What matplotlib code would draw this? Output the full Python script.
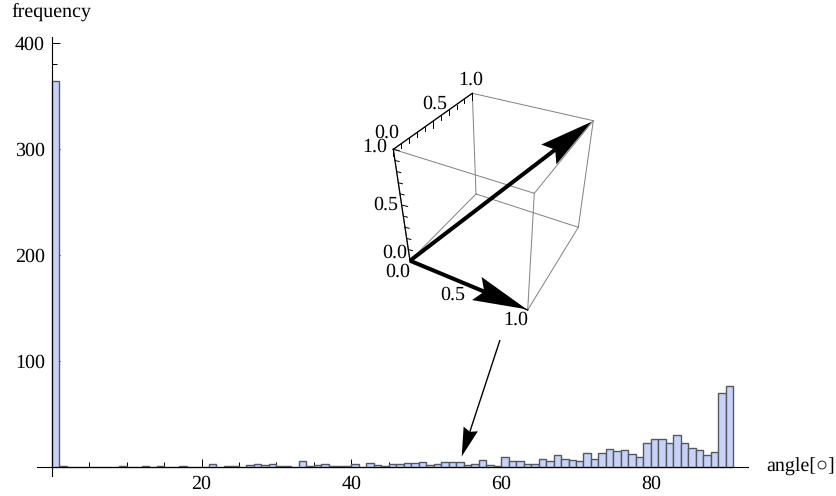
import numpy as np
import matplotlib
matplotlib.use("Agg")
import matplotlib.pyplot as plt

plt.rcParams["font.family"] = ["Liberation Serif", "DejaVu Sans"]
plt.rcParams["font.size"] = 14.6
plt.rcParams["text.hinting"] = "none"
plt.rcParams["text.hinting_factor"] = 1

W, H = 836, 496

# histogram, one count per 1 degree bin starting at 0
counts = [364, 1, 0, 0, 0, 0, 0, 0, 0, 1, 0, 0, 1, 0, 1, 0, 0, 1, 0, 0,
          0, 3, 0, 1, 1, 0, 2, 3, 2, 3, 1, 1, 0, 6, 1, 2, 3, 1, 1, 1,
          3, 0, 4, 2, 1, 3, 3, 4, 4, 5, 2, 3, 5, 5, 5, 2, 3, 7, 2, 1,
          9, 6, 6, 3, 3, 8, 6, 11, 8, 7, 6, 13, 8, 13, 17, 15, 16, 12, 9, 23,
          26, 26, 23, 30, 23, 18, 16, 11, 14, 70, 76]
x_major = [20, 40, 60, 80]
x_minor = [5, 10, 15, 25, 30, 35, 45, 50, 55, 65, 70, 75, 85, 90]
y_major = [100, 200, 300, 400]
y_minor = [20, 40, 60, 80, 120, 140, 160, 180, 220, 240, 260, 280, 320, 340, 360, 380]

# inset cube, corners as they land on the page (pixels)
cube = {"O": (410.0, 260.7), "C": (393.3, 149.3), "A": (472.3, 93.3), "F": (476.0, 194.0),
        "P": (527.7, 310.0), "G": (534.3, 193.3), "B": (593.3, 120.7), "E": (578.3, 227.3)}
cube_edges = ["OC", "OF", "OP", "CA", "CG", "AF", "AB", "FE", "PG", "PE", "GB", "EB"]
cube_labels = [("0.0", 387, 133), ("1.0", 375, 147), ("0.5", 435, 104), ("1.0", 471, 80),
               ("0.5", 386, 205), ("0.0", 395, 253), ("0.0", 398, 272), ("0.5", 453, 295),
               ("1.0", 516, 320)]


def draw_arrow(ax, start, tip, lw, head_len, head_w, notch):
    start, tip = np.array(start), np.array(tip)
    d = (tip - start) / np.hypot(*(tip - start))
    n = np.array([-d[1], d[0]])
    base = tip - d * head_len
    ax.plot([start[0], base[0] + d[0] * notch], [start[1], base[1] + d[1] * notch],
            color="black", lw=lw, solid_capstyle="butt", zorder=5)
    head = [tip, base + n * head_w / 2, base + d * notch, base - n * head_w / 2]
    ax.fill(*zip(*head), color="black", lw=0, zorder=6)


def edge_ticks(ax, a, b, out, n=10):
    # small ticks along a cube edge, the middle one longer
    a, b = np.array(a), np.array(b)
    out = np.array(out)
    for i in range(n + 1):
        p = a + (b - a) * i / n
        q = p + out * (1.0 if i % 5 == 0 else 0.7)
        ax.plot([p[0], q[0]], [p[1], q[1]], color="black", lw=0.7, zorder=4)


fig = plt.figure(figsize=(W / 100, H / 100), dpi=100)

# main histogram: x=0 at px 51.7, y=0 at px 467
left, right, top, bottom = 37.0, 748.0, 37.0, 476.0
ax = fig.add_axes([left / W, 1 - bottom / H, (right - left) / W, (bottom - top) / H])
ax.set_xlim((left - 51.7) / 7.49, (right - 51.7) / 7.49)
ax.set_ylim((467 - bottom) / 1.06, (467 - top) / 1.06)
ax.patch.set_alpha(0)

ax.bar(np.arange(len(counts)), counts, width=1.0, align="edge", color="#c8d2f6",
       edgecolor="#55585f", linewidth=1.0, zorder=2)

for s in ["top", "right"]:
    ax.spines[s].set_visible(False)
for s in ["left", "bottom"]:
    ax.spines[s].set_position(("data", 0))
    ax.spines[s].set_linewidth(0.8)
    ax.spines[s].set_zorder(3)

ax.set_xticks(x_major)
ax.set_xticks(x_minor, minor=True)
ax.set_yticks(y_major)
ax.set_yticks(y_minor, minor=True)
ax.tick_params(axis="both", which="major", direction="in", length=5.8, width=0.7, zorder=3)
ax.tick_params(axis="both", which="minor", direction="in", length=3.4, width=0.7, zorder=3)
ax.tick_params(axis="x", which="major", pad=5.5)
ax.tick_params(axis="y", which="major", pad=5)

# page overlay in pixels for labels and the inset
ov = fig.add_axes([0, 0, 1, 1])
ov.set_xlim(0, W)
ov.set_ylim(H, 0)
ov.axis("off")
ov.patch.set_alpha(0)

ov.text(11, 12, "frequency", ha="left", va="center")
ov.text(766, 467, "angle[\u25cb]", ha="left", va="center")

for e in cube_edges:
    p, q = cube[e[0]], cube[e[1]]
    ov.plot([p[0], q[0]], [p[1], q[1]], color="#808080", lw=0.7, zorder=3)

ov.plot(*zip(cube["O"], cube["C"]), color="black", lw=0.9, zorder=4)
ov.plot(*zip(cube["C"], cube["A"]), color="black", lw=0.9, zorder=4)
ov.plot(*zip(cube["O"], cube["P"]), color="black", lw=0.9, zorder=4)
edge_ticks(ov, cube["O"], cube["C"], (6, 1.5))
edge_ticks(ov, cube["C"], cube["A"], (0, 6.5))

draw_arrow(ov, cube["O"], (591.7, 121.7), 2.9, 54, 25, 8)
draw_arrow(ov, cube["O"], (526.7, 309.3), 2.9, 54, 25, 8)
draw_arrow(ov, (500, 340), (461.7, 456.5), 1.0, 29, 15, 3)

for s, x, y in cube_labels:
    ov.text(x, y, s, ha="center", va="center", zorder=7)

fig.savefig("out.png", dpi=100)
